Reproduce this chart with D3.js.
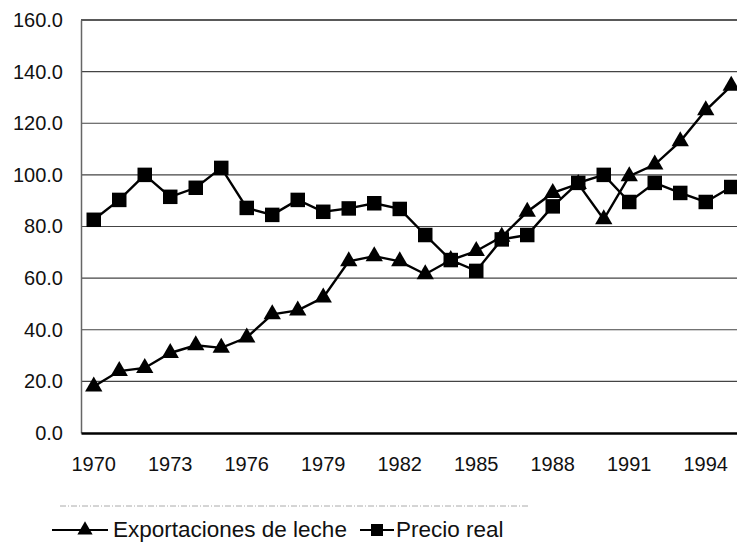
<!DOCTYPE html>
<html>
<head>
<meta charset="utf-8">
<script src="https://cdn.jsdelivr.net/npm/d3@7"></script>
<style>
  html, body { margin: 0; padding: 0; background: #fff; }
  svg { display: block; }
  text { font-family: "Liberation Sans", Arial, sans-serif; fill: #111; }
</style>
</head>
<body>
<svg id="chart" width="737" height="544"></svg>
<script>
const years = d3.range(1970, 1996);
const exportaciones = [18, 24, 25.2, 31, 34, 33, 37, 46, 47.5, 52.5, 66.5, 68.5, 66.5, 61.5, 67, 70.5, 76, 85.7, 93, 96.5, 82.8, 99.5, 104, 113, 125, 134.5];
const precioReal = [82.6, 90.3, 100, 91.5, 95, 102.7, 87.2, 84.5, 90.3, 85.7, 87, 89, 86.8, 76.7, 67, 62.8, 75, 76.7, 87.8, 96.9, 100, 89.5, 96.9, 93, 89.5, 95.3];
const yTicks = [0, 20, 40, 60, 80, 100, 120, 140, 160];
const xTickYears = [1970, 1973, 1976, 1979, 1982, 1985, 1988, 1991, 1994];
const seriesNames = ["Exportaciones de leche", "Precio real"];

const svg = d3.select("#chart");
const mLeft = 81, mRight = 744, mTop = 20, mBottom = 433;

const x = d3.scaleBand().domain(years).range([mLeft, mRight]).padding(0);
const cx = d => x(d) + x.bandwidth() / 2;
const y = d3.scaleLinear().domain([0, 160]).range([mBottom, mTop]);

// gridlines
svg.append("g").selectAll("line").data(yTicks.filter(t => t > 0)).join("line")
  .attr("x1", mLeft).attr("x2", mRight)
  .attr("y1", d => y(d)).attr("y2", d => y(d))
  .attr("stroke", d => d === 160 ? "#222" : "#444")
  .attr("stroke-width", d => d === 160 ? 1.6 : 1.2);

// left axis
const yAxis = d3.axisLeft(y).tickValues(yTicks).tickFormat(d3.format(".1f")).tickSize(0).tickPadding(18);
const gy = svg.append("g").attr("transform", `translate(${mLeft},0)`).call(yAxis);
gy.select(".domain").attr("stroke", "#666").attr("stroke-width", 1.5);
gy.selectAll("text").style("font-size", "20px").attr("fill", "#111");

// bottom axis
const xAxis = d3.axisBottom(x).tickValues(xTickYears).tickSize(0).tickPadding(24);
const gx = svg.append("g").attr("transform", `translate(0,${mBottom})`).call(xAxis);
gx.select(".domain").attr("stroke", "#000").attr("stroke-width", 2.6);
gx.selectAll("text").style("font-size", "20px").attr("fill", "#111");

// lines
const line = d3.line().x((d, i) => cx(years[i])).y(d => y(d));
[exportaciones, precioReal].forEach(s => {
  svg.append("path").datum(s).attr("d", line)
    .attr("fill", "none").attr("stroke", "#000").attr("stroke-width", 2.4);
});

const tri = d3.symbol().type(d3.symbolTriangle).size(130);
const sq = d3.symbol().type(d3.symbolSquare).size(210);

svg.append("g").selectAll("path").data(precioReal).join("path")
  .attr("d", sq).attr("fill", "#000")
  .attr("transform", (d, i) => `translate(${cx(years[i])},${y(d)})`);
svg.append("g").selectAll("path").data(exportaciones).join("path")
  .attr("d", tri).attr("fill", "#000")
  .attr("transform", (d, i) => `translate(${cx(years[i])},${y(d)})`);

// faint scan line above legend
svg.append("line").attr("x1", 60).attr("x2", 530).attr("y1", 506).attr("y2", 506)
  .attr("stroke", "#aaa").attr("stroke-width", 1).attr("stroke-dasharray", "6 2 1 2");

// legend
const lg = svg.append("g");
const ly = 530;
const triL = d3.symbol().type(d3.symbolTriangle).size(100);
const sqL = d3.symbol().type(d3.symbolSquare).size(144);
lg.append("line").attr("x1", 52).attr("x2", 108).attr("y1", ly).attr("y2", ly).attr("stroke", "#000").attr("stroke-width", 2.2);
lg.append("path").attr("d", triL).attr("transform", `translate(85,${ly})`).attr("fill", "#000");
lg.append("text").attr("x", 113).attr("y", 537).style("font-size", "22.5px").text(seriesNames[0]);
lg.append("line").attr("x1", 360).attr("x2", 394).attr("y1", ly).attr("y2", ly).attr("stroke", "#000").attr("stroke-width", 2.2);
lg.append("path").attr("d", sqL).attr("transform", `translate(377,${ly})`).attr("fill", "#000");
lg.append("text").attr("x", 396).attr("y", 537).style("font-size", "22.5px").text(seriesNames[1]);
</script>
</body>
</html>
